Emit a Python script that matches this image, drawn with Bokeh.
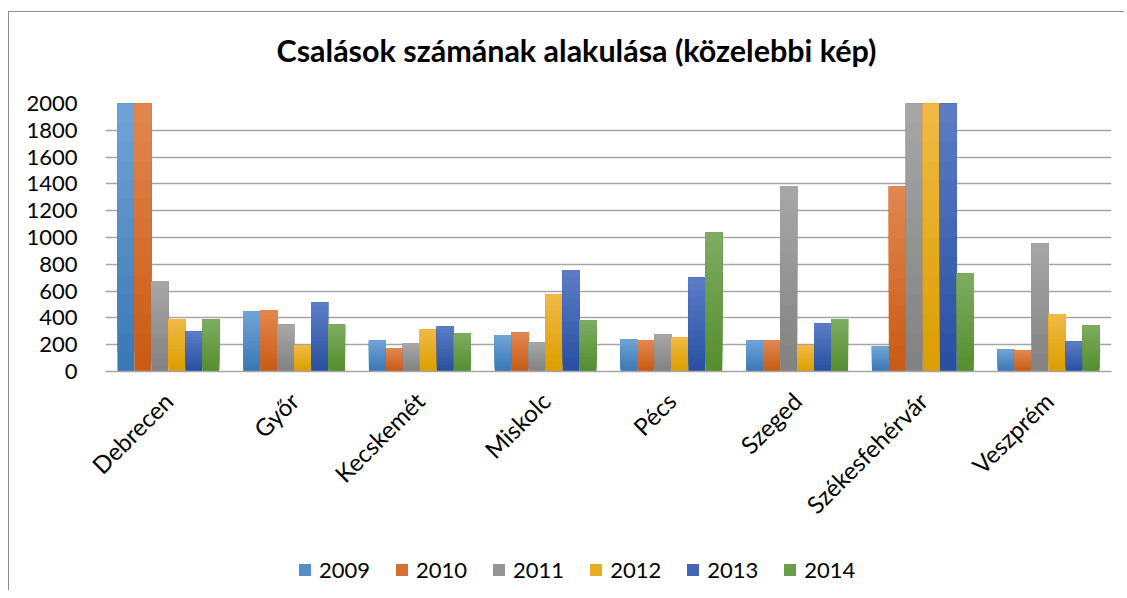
import math
from bokeh.plotting import figure
from bokeh.layouts import column
from bokeh.models import ColumnDataSource, Legend, LegendItem, Range1d, FixedTicker
from bokeh.transform import dodge
from bokeh.embed import file_html
from bokeh.resources import INLINE

cities = ["Debrecen", "Győr", "Kecskemét", "Miskolc", "Pécs", "Szeged", "Székesfehérvár", "Veszprém"]
years = ["2009", "2010", "2011", "2012", "2013", "2014"]
y2009 = [2000, 450, 232, 270, 240, 232, 188, 165]
y2010 = [2000, 456, 172, 291, 232, 232, 1382, 157]
y2011 = [672, 351, 210, 217, 276, 1382, 2000, 956]
y2012 = [390, 194, 314, 575, 254, 194, 2000, 426]
y2013 = [299, 516, 336, 755, 702, 359, 2000, 224]
y2014 = [390, 351, 284, 381, 1039, 389, 732, 344]
series = [y2009, y2010, y2011, y2012, y2013, y2014]
y_ticks = list(range(0, 2001, 200))
title_text = "Csalások számának alakulása  (közelebbi kép)"

# gradient colours (top, bottom) per series
top_colors = ["#6fa3d5", "#e2864f", "#a6a6a6", "#f0b944", "#5b7cc4", "#7dab60"]
bottom_colors = ["#3b78b6", "#c95b14", "#828282", "#dc9f00", "#2950a2", "#558f2e"]

FONT = "Lato"

def hex2rgb(h):
    h = h.lstrip("#")
    return tuple(int(h[i:i + 2], 16) for i in (0, 2, 4))

def mix(c1, c2, t):
    a, b = hex2rgb(c1), hex2rgb(c2)
    return "#%02x%02x%02x" % tuple(round(a[i] + (b[i] - a[i]) * t) for i in range(3))

# header strip carrying the title
hd = figure(width=1115, height=55, output_backend="svg", toolbar_location=None,
            x_axis_type=None, y_axis_type=None, min_border=0,
            x_range=Range1d(0, 1), y_range=Range1d(0, 1),
            title=title_text, title_location="below")
hd.grid.grid_line_color = None
hd.outline_line_color = None
hd.title.align = "left"
hd.title.offset = 171
hd.title.standoff = 0
hd.title.text_font = FONT
hd.title.text_font_size = "30.5px"
hd.title.text_font_style = "bold"
hd.title.text_color = "#000000"

p = figure(x_range=cities, y_range=Range1d(0, 2000), width=1115, height=478,
           output_backend="svg", toolbar_location=None,
           min_border_left=96, min_border_right=13, min_border_top=36, min_border_bottom=174)

N = 14
bw = 0.135
for si, (yr, vals) in enumerate(zip(years, series)):
    for k in range(N):
        t = k / (N - 1)
        col = mix(bottom_colors[si], top_colors[si], t)
        src = ColumnDataSource(dict(city=cities,
                                    bottom=[v * k / N for v in vals],
                                    top=list(vals)))
        p.vbar(x=dodge("city", (si - 2.5) * bw, range=p.x_range), bottom="bottom", top="top",
               width=bw, source=src, fill_color=col, line_color=None)

p.yaxis.ticker = FixedTicker(ticks=y_ticks)
p.yaxis.axis_line_color = None
p.yaxis.major_tick_line_color = None
p.yaxis.minor_tick_line_color = None
p.yaxis.major_label_standoff = 22
p.yaxis.major_label_text_font = FONT
p.yaxis.major_label_text_font_size = "22px"
p.yaxis.major_label_text_color = "#000000"

p.xaxis.axis_line_color = "#a6a6a6"
p.xaxis.axis_line_width = 1.5
p.xaxis.major_tick_line_color = None
p.xaxis.minor_tick_line_color = None
p.xaxis.major_label_orientation = math.pi / 4
p.xaxis.major_label_standoff = 19
p.xaxis.major_label_text_font = FONT
p.xaxis.major_label_text_font_size = "24px"
p.xaxis.major_label_text_color = "#000000"

p.xgrid.grid_line_color = None
p.ygrid.grid_line_color = "#a6a6a6"
p.ygrid.grid_line_width = 1.5
p.outline_line_color = None
p.x_range.range_padding = 0

# legend strip below the chart
lg = figure(width=1115, height=45, output_backend="svg", toolbar_location=None,
            x_axis_type=None, y_axis_type=None, min_border=0,
            x_range=Range1d(0, 1), y_range=Range1d(0, 1))
lg.grid.grid_line_color = None
lg.outline_line_color = None
items = []
for si, yr in enumerate(years):
    col = mix(bottom_colors[si], top_colors[si], 0.5)
    r = lg.vbar(x=[0], bottom=[0], top=[0], width=0, fill_color=col, line_color=None)
    items.append(LegendItem(label=yr, renderers=[r]))
legend = Legend(items=items, orientation="horizontal", location=(192, 7),
                label_text_font=FONT, label_text_font_size="22px", label_text_color="#000000",
                glyph_width=15, glyph_height=15, label_standoff=7, spacing=24,
                label_height=26, padding=0, margin=0, border_line_color=None,
                background_fill_alpha=0)
lg.add_layout(legend)

layout = column(hd, p, lg, spacing=0,
                styles={"border-left": "1px solid #8c8c8c", "border-top": "1px solid #8c8c8c",
                        "margin-top": "11px", "margin-left": "8px"})

open("out.html", "w").write(file_html(layout, INLINE))
